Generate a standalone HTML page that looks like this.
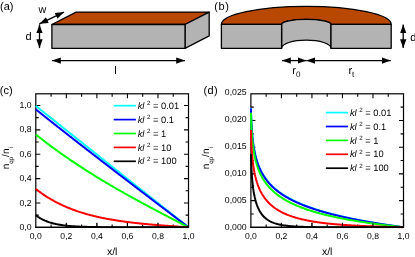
<!DOCTYPE html>
<html><head><meta charset="utf-8"><title>figure</title>
<style>html,body{margin:0;padding:0;background:#fff;}body{width:415px;height:257px;overflow:hidden;font-family:"Liberation Sans",sans-serif;}</style>
</head><body>
<svg width="415" height="257" viewBox="0 0 415 257" style="display:block;will-change:transform;text-rendering:geometricPrecision">
<rect width="415" height="257" fill="#fff"/>
<defs>
<marker id="ah" viewBox="0 0 10 10" refX="10" refY="5" markerWidth="8.8" markerHeight="8.8" markerUnits="userSpaceOnUse" orient="auto-start-reverse"><path d="M0,1.4 L10,5 L0,8.6 z" fill="#000"/></marker>
</defs>
<g stroke="#000" stroke-width="1.3" stroke-linejoin="round">
<polygon points="51.9,24.5 76.1,12.1 209.2,12.1 185.0,24.5" fill="#b84700"/>
<polygon points="185.0,24.5 209.2,12.1 209.2,35.9 185.0,48.3" fill="#b3b3b3"/>
<rect x="51.9" y="24.5" width="133.1" height="23.799999999999997" fill="#b3b3b3"/>
</g>
<line x1="39.4" y1="23.8" x2="64.0" y2="12.1" stroke="#000" stroke-width="1.3" marker-end="url(#ah)" marker-start="url(#ah)"/>
<line x1="39.5" y1="24.4" x2="39.5" y2="48.1" stroke="#000" stroke-width="1.3" marker-end="url(#ah)" marker-start="url(#ah)"/>
<line x1="52" y1="60.6" x2="185" y2="60.6" stroke="#000" stroke-width="1.3" marker-end="url(#ah)" marker-start="url(#ah)"/>
<text x="0" y="9.5" font-family="Liberation Sans, sans-serif" font-size="11" text-anchor="start" fill="#000" >(a)</text>
<text x="38.5" y="13.0" font-family="Liberation Sans, sans-serif" font-size="10.8" text-anchor="start" fill="#000" >w</text>
<text x="25.6" y="40.2" font-family="Liberation Sans, sans-serif" font-size="11" text-anchor="start" fill="#000" >d</text>
<text x="114.3" y="74.3" font-family="Liberation Sans, sans-serif" font-size="11" text-anchor="start" fill="#000" >l</text>
<g stroke="#000" stroke-width="1.3" stroke-linejoin="round">
<path d="M221.4,24.3 A84.89999999999999,18 0 0 1 391.2,24.3 L331.0,24.3 A24.69999999999999,5 0 0 0 281.6,24.3 Z" fill="#b84700"/>
<path d="M281.6,24.3 A24.69999999999999,5 0 0 1 331.0,24.3 L331.0,48.3 A24.69999999999999,8.2 0 0 0 281.6,48.3 Z" fill="#b3b3b3"/>
<rect x="221.4" y="24.3" width="60.20000000000002" height="23.999999999999996" fill="#b3b3b3"/>
<rect x="331.0" y="24.3" width="60.19999999999999" height="23.999999999999996" fill="#b3b3b3"/>
</g>
<line x1="403.2" y1="24.5" x2="403.2" y2="48.0" stroke="#000" stroke-width="1.3" marker-end="url(#ah)" marker-start="url(#ah)"/>
<line x1="282.0" y1="60.6" x2="306.3" y2="60.6" stroke="#000" stroke-width="1.3" marker-end="url(#ah)" marker-start="url(#ah)"/>
<line x1="306.3" y1="60.6" x2="390.8" y2="60.6" stroke="#000" stroke-width="1.3" marker-end="url(#ah)" marker-start="url(#ah)"/>
<text x="214.2" y="9.5" font-family="Liberation Sans, sans-serif" font-size="11" text-anchor="start" fill="#000" letter-spacing="0.6">(b)</text>
<text x="410.3" y="40.6" font-family="Liberation Sans, sans-serif" font-size="11" text-anchor="start" fill="#000" >d</text>
<text x="292.3" y="73.8" font-family="Liberation Sans, sans-serif" font-size="11" text-anchor="start" fill="#000" >r<tspan font-size="8" dy="3.3">0</tspan></text>
<text x="348.4" y="73.8" font-family="Liberation Sans, sans-serif" font-size="11" text-anchor="start" fill="#000" >r<tspan font-size="8" dy="3.3">t</tspan></text>
<clipPath id="cpc"><rect x="34.8" y="93.8" width="154.7" height="134.5"/></clipPath>
<rect x="35.8" y="93.8" width="152.7" height="133.5" fill="none" stroke="#000" stroke-width="1.2"/>
<text x="35.80" y="238.8" font-family="Liberation Sans, sans-serif" font-size="8.6" text-anchor="middle" fill="#000" >0,0</text>
<text x="66.34" y="238.8" font-family="Liberation Sans, sans-serif" font-size="8.6" text-anchor="middle" fill="#000" >0,2</text>
<text x="96.88" y="238.8" font-family="Liberation Sans, sans-serif" font-size="8.6" text-anchor="middle" fill="#000" >0,4</text>
<text x="127.42" y="238.8" font-family="Liberation Sans, sans-serif" font-size="8.6" text-anchor="middle" fill="#000" >0,6</text>
<text x="157.96" y="238.8" font-family="Liberation Sans, sans-serif" font-size="8.6" text-anchor="middle" fill="#000" >0,8</text>
<text x="188.50" y="238.8" font-family="Liberation Sans, sans-serif" font-size="8.6" text-anchor="middle" fill="#000" >1,0</text>
<text x="31.499999999999996" y="230.10" font-family="Liberation Sans, sans-serif" font-size="8.7" text-anchor="end" fill="#000" >0,0</text>
<text x="31.499999999999996" y="205.68" font-family="Liberation Sans, sans-serif" font-size="8.7" text-anchor="end" fill="#000" >0,2</text>
<text x="31.499999999999996" y="181.27" font-family="Liberation Sans, sans-serif" font-size="8.7" text-anchor="end" fill="#000" >0,4</text>
<text x="31.499999999999996" y="156.85" font-family="Liberation Sans, sans-serif" font-size="8.7" text-anchor="end" fill="#000" >0,6</text>
<text x="31.499999999999996" y="132.44" font-family="Liberation Sans, sans-serif" font-size="8.7" text-anchor="end" fill="#000" >0,8</text>
<text x="31.499999999999996" y="108.02" font-family="Liberation Sans, sans-serif" font-size="8.7" text-anchor="end" fill="#000" >1,0</text>
<path d="M51.07,227.3 v-2.9 M51.07,93.8 v2.9 M66.34,227.3 v-4.5 M66.34,93.8 v4.5 M81.61,227.3 v-2.9 M81.61,93.8 v2.9 M96.88,227.3 v-4.5 M96.88,93.8 v4.5 M112.15,227.3 v-2.9 M112.15,93.8 v2.9 M127.42,227.3 v-4.5 M127.42,93.8 v4.5 M142.69,227.3 v-2.9 M142.69,93.8 v2.9 M157.96,227.3 v-4.5 M157.96,93.8 v4.5 M173.23,227.3 v-2.9 M173.23,93.8 v2.9 M35.8,215.12 h2.9 M188.5,215.12 h-2.9 M35.8,202.94 h4.5 M188.5,202.94 h-4.5 M35.8,190.76 h2.9 M188.5,190.76 h-2.9 M35.8,178.58 h4.5 M188.5,178.58 h-4.5 M35.8,166.40 h2.9 M188.5,166.40 h-2.9 M35.8,154.22 h4.5 M188.5,154.22 h-4.5 M35.8,142.04 h2.9 M188.5,142.04 h-2.9 M35.8,129.85 h4.5 M188.5,129.85 h-4.5 M35.8,117.67 h2.9 M188.5,117.67 h-2.9 M35.8,105.49 h4.5 M188.5,105.49 h-4.5" stroke="#000" stroke-width="1.1" fill="none"/>
<g clip-path="url(#cpc)" fill="none" stroke-width="2" stroke-linejoin="round">
<polyline points="35.80,105.90 36.56,106.51 37.33,107.12 38.09,107.72 38.85,108.33 39.62,108.94 40.38,109.55 41.14,110.16 41.91,110.77 42.67,111.38 43.43,111.99 44.20,112.60 44.96,113.20 45.73,113.81 46.49,114.42 47.25,115.03 48.02,115.64 48.78,116.25 49.54,116.86 50.31,117.46 51.07,118.07 51.83,118.68 52.60,119.29 53.36,119.90 54.12,120.51 54.89,121.11 55.65,121.72 56.41,122.33 57.18,122.94 57.94,123.55 58.70,124.16 59.47,124.76 60.23,125.37 61.00,125.98 61.76,126.59 62.52,127.20 63.29,127.80 64.05,128.41 64.81,129.02 65.58,129.63 66.34,130.24 67.10,130.84 67.87,131.45 68.63,132.06 69.39,132.67 70.16,133.28 70.92,133.88 71.68,134.49 72.45,135.10 73.21,135.71 73.97,136.31 74.74,136.92 75.50,137.53 76.27,138.14 77.03,138.75 77.79,139.35 78.56,139.96 79.32,140.57 80.08,141.18 80.85,141.78 81.61,142.39 82.37,143.00 83.14,143.61 83.90,144.21 84.66,144.82 85.43,145.43 86.19,146.04 86.95,146.64 87.72,147.25 88.48,147.86 89.25,148.46 90.01,149.07 90.77,149.68 91.54,150.29 92.30,150.89 93.06,151.50 93.83,152.11 94.59,152.71 95.35,153.32 96.12,153.93 96.88,154.54 97.64,155.14 98.41,155.75 99.17,156.36 99.93,156.96 100.70,157.57 101.46,158.18 102.22,158.79 102.99,159.39 103.75,160.00 104.52,160.61 105.28,161.21 106.04,161.82 106.81,162.43 107.57,163.03 108.33,163.64 109.10,164.25 109.86,164.85 110.62,165.46 111.39,166.07 112.15,166.67 112.91,167.28 113.68,167.89 114.44,168.49 115.20,169.10 115.97,169.71 116.73,170.31 117.49,170.92 118.26,171.53 119.02,172.13 119.78,172.74 120.55,173.35 121.31,173.95 122.08,174.56 122.84,175.17 123.60,175.77 124.37,176.38 125.13,176.99 125.89,177.59 126.66,178.20 127.42,178.81 128.18,179.41 128.95,180.02 129.71,180.63 130.47,181.23 131.24,181.84 132.00,182.45 132.76,183.05 133.53,183.66 134.29,184.26 135.06,184.87 135.82,185.48 136.58,186.08 137.35,186.69 138.11,187.30 138.87,187.90 139.64,188.51 140.40,189.12 141.16,189.72 141.93,190.33 142.69,190.93 143.45,191.54 144.22,192.15 144.98,192.75 145.74,193.36 146.51,193.97 147.27,194.57 148.03,195.18 148.80,195.78 149.56,196.39 150.32,197.00 151.09,197.60 151.85,198.21 152.62,198.82 153.38,199.42 154.14,200.03 154.91,200.63 155.67,201.24 156.43,201.85 157.20,202.45 157.96,203.06 158.72,203.66 159.49,204.27 160.25,204.88 161.01,205.48 161.78,206.09 162.54,206.69 163.30,207.30 164.07,207.91 164.83,208.51 165.59,209.12 166.36,209.73 167.12,210.33 167.89,210.94 168.65,211.54 169.41,212.15 170.18,212.76 170.94,213.36 171.70,213.97 172.47,214.57 173.23,215.18 173.99,215.79 174.76,216.39 175.52,217.00 176.28,217.60 177.05,218.21 177.81,218.82 178.57,219.42 179.34,220.03 180.10,220.63 180.87,221.24 181.63,221.85 182.39,222.45 183.16,223.06 183.92,223.66 184.68,224.27 185.45,224.88 186.21,225.48 186.97,226.09 187.74,226.69 188.50,227.30" stroke="#00ffff"/>
<polyline points="35.80,109.40 36.56,110.01 37.33,110.62 38.09,111.22 38.85,111.83 39.62,112.44 40.38,113.05 41.14,113.65 41.91,114.26 42.67,114.87 43.43,115.47 44.20,116.08 44.96,116.69 45.73,117.29 46.49,117.90 47.25,118.50 48.02,119.11 48.78,119.71 49.54,120.31 50.31,120.92 51.07,121.52 51.83,122.12 52.60,122.73 53.36,123.33 54.12,123.93 54.89,124.54 55.65,125.14 56.41,125.74 57.18,126.34 57.94,126.94 58.70,127.54 59.47,128.14 60.23,128.74 61.00,129.34 61.76,129.94 62.52,130.54 63.29,131.14 64.05,131.74 64.81,132.34 65.58,132.94 66.34,133.54 67.10,134.14 67.87,134.74 68.63,135.33 69.39,135.93 70.16,136.53 70.92,137.13 71.68,137.72 72.45,138.32 73.21,138.92 73.97,139.51 74.74,140.11 75.50,140.70 76.27,141.30 77.03,141.90 77.79,142.49 78.56,143.09 79.32,143.68 80.08,144.27 80.85,144.87 81.61,145.46 82.37,146.06 83.14,146.65 83.90,147.24 84.66,147.84 85.43,148.43 86.19,149.02 86.95,149.62 87.72,150.21 88.48,150.80 89.25,151.39 90.01,151.99 90.77,152.58 91.54,153.17 92.30,153.76 93.06,154.35 93.83,154.94 94.59,155.53 95.35,156.12 96.12,156.72 96.88,157.31 97.64,157.90 98.41,158.49 99.17,159.08 99.93,159.67 100.70,160.25 101.46,160.84 102.22,161.43 102.99,162.02 103.75,162.61 104.52,163.20 105.28,163.79 106.04,164.38 106.81,164.96 107.57,165.55 108.33,166.14 109.10,166.73 109.86,167.32 110.62,167.90 111.39,168.49 112.15,169.08 112.91,169.67 113.68,170.25 114.44,170.84 115.20,171.43 115.97,172.01 116.73,172.60 117.49,173.18 118.26,173.77 119.02,174.36 119.78,174.94 120.55,175.53 121.31,176.11 122.08,176.70 122.84,177.28 123.60,177.87 124.37,178.45 125.13,179.04 125.89,179.62 126.66,180.21 127.42,180.79 128.18,181.38 128.95,181.96 129.71,182.54 130.47,183.13 131.24,183.71 132.00,184.30 132.76,184.88 133.53,185.46 134.29,186.05 135.06,186.63 135.82,187.21 136.58,187.80 137.35,188.38 138.11,188.96 138.87,189.55 139.64,190.13 140.40,190.71 141.16,191.29 141.93,191.88 142.69,192.46 143.45,193.04 144.22,193.62 144.98,194.21 145.74,194.79 146.51,195.37 147.27,195.95 148.03,196.53 148.80,197.12 149.56,197.70 150.32,198.28 151.09,198.86 151.85,199.44 152.62,200.02 153.38,200.61 154.14,201.19 154.91,201.77 155.67,202.35 156.43,202.93 157.20,203.51 157.96,204.09 158.72,204.67 159.49,205.25 160.25,205.84 161.01,206.42 161.78,207.00 162.54,207.58 163.30,208.16 164.07,208.74 164.83,209.32 165.59,209.90 166.36,210.48 167.12,211.06 167.89,211.64 168.65,212.22 169.41,212.80 170.18,213.38 170.94,213.96 171.70,214.54 172.47,215.12 173.23,215.70 173.99,216.28 174.76,216.86 175.52,217.44 176.28,218.02 177.05,218.60 177.81,219.18 178.57,219.76 179.34,220.34 180.10,220.92 180.87,221.50 181.63,222.08 182.39,222.66 183.16,223.24 183.92,223.82 184.68,224.40 185.45,224.98 186.21,225.56 186.97,226.14 187.74,226.72 188.50,227.30" stroke="#0000ff"/>
<polyline points="35.80,134.53 36.56,135.14 37.33,135.75 38.09,136.35 38.85,136.95 39.62,137.55 40.38,138.15 41.14,138.74 41.91,139.33 42.67,139.92 43.43,140.51 44.20,141.10 44.96,141.68 45.73,142.26 46.49,142.84 47.25,143.42 48.02,143.99 48.78,144.56 49.54,145.13 50.31,145.70 51.07,146.27 51.83,146.83 52.60,147.40 53.36,147.96 54.12,148.52 54.89,149.07 55.65,149.63 56.41,150.18 57.18,150.73 57.94,151.28 58.70,151.83 59.47,152.37 60.23,152.92 61.00,153.46 61.76,154.00 62.52,154.53 63.29,155.07 64.05,155.60 64.81,156.14 65.58,156.67 66.34,157.20 67.10,157.72 67.87,158.25 68.63,158.77 69.39,159.29 70.16,159.81 70.92,160.33 71.68,160.85 72.45,161.36 73.21,161.88 73.97,162.39 74.74,162.90 75.50,163.41 76.27,163.91 77.03,164.42 77.79,164.92 78.56,165.43 79.32,165.93 80.08,166.43 80.85,166.92 81.61,167.42 82.37,167.91 83.14,168.41 83.90,168.90 84.66,169.39 85.43,169.88 86.19,170.37 86.95,170.85 87.72,171.34 88.48,171.82 89.25,172.30 90.01,172.78 90.77,173.26 91.54,173.74 92.30,174.21 93.06,174.69 93.83,175.16 94.59,175.63 95.35,176.11 96.12,176.58 96.88,177.04 97.64,177.51 98.41,177.98 99.17,178.44 99.93,178.91 100.70,179.37 101.46,179.83 102.22,180.29 102.99,180.75 103.75,181.21 104.52,181.66 105.28,182.12 106.04,182.57 106.81,183.02 107.57,183.48 108.33,183.93 109.10,184.38 109.86,184.83 110.62,185.27 111.39,185.72 112.15,186.17 112.91,186.61 113.68,187.05 114.44,187.50 115.20,187.94 115.97,188.38 116.73,188.82 117.49,189.26 118.26,189.69 119.02,190.13 119.78,190.57 120.55,191.00 121.31,191.44 122.08,191.87 122.84,192.30 123.60,192.73 124.37,193.16 125.13,193.59 125.89,194.02 126.66,194.45 127.42,194.88 128.18,195.30 128.95,195.73 129.71,196.15 130.47,196.58 131.24,197.00 132.00,197.42 132.76,197.84 133.53,198.26 134.29,198.68 135.06,199.10 135.82,199.52 136.58,199.94 137.35,200.36 138.11,200.78 138.87,201.19 139.64,201.61 140.40,202.02 141.16,202.44 141.93,202.85 142.69,203.26 143.45,203.67 144.22,204.09 144.98,204.50 145.74,204.91 146.51,205.32 147.27,205.73 148.03,206.14 148.80,206.54 149.56,206.95 150.32,207.36 151.09,207.77 151.85,208.17 152.62,208.58 153.38,208.98 154.14,209.39 154.91,209.79 155.67,210.20 156.43,210.60 157.20,211.00 157.96,211.41 158.72,211.81 159.49,212.21 160.25,212.61 161.01,213.01 161.78,213.42 162.54,213.82 163.30,214.22 164.07,214.62 164.83,215.02 165.59,215.41 166.36,215.81 167.12,216.21 167.89,216.61 168.65,217.01 169.41,217.41 170.18,217.80 170.94,218.20 171.70,218.60 172.47,219.00 173.23,219.39 173.99,219.79 174.76,220.19 175.52,220.58 176.28,220.98 177.05,221.37 177.81,221.77 178.57,222.17 179.34,222.56 180.10,222.96 180.87,223.35 181.63,223.75 182.39,224.14 183.16,224.54 183.92,224.93 184.68,225.33 185.45,225.72 186.21,226.12 186.97,226.51 187.74,226.91 188.50,227.30" stroke="#00ff00"/>
<polyline points="35.80,188.92 36.56,189.52 37.33,190.12 38.09,190.70 38.85,191.28 39.62,191.85 40.38,192.41 41.14,192.96 41.91,193.50 42.67,194.03 43.43,194.55 44.20,195.07 44.96,195.58 45.73,196.08 46.49,196.57 47.25,197.06 48.02,197.53 48.78,198.00 49.54,198.47 50.31,198.92 51.07,199.37 51.83,199.81 52.60,200.24 53.36,200.67 54.12,201.09 54.89,201.51 55.65,201.91 56.41,202.32 57.18,202.71 57.94,203.10 58.70,203.48 59.47,203.86 60.23,204.23 61.00,204.60 61.76,204.96 62.52,205.31 63.29,205.66 64.05,206.00 64.81,206.34 65.58,206.67 66.34,207.00 67.10,207.32 67.87,207.64 68.63,207.95 69.39,208.26 70.16,208.57 70.92,208.86 71.68,209.16 72.45,209.45 73.21,209.73 73.97,210.01 74.74,210.29 75.50,210.56 76.27,210.83 77.03,211.09 77.79,211.35 78.56,211.61 79.32,211.86 80.08,212.10 80.85,212.35 81.61,212.59 82.37,212.82 83.14,213.06 83.90,213.29 84.66,213.51 85.43,213.73 86.19,213.95 86.95,214.17 87.72,214.38 88.48,214.59 89.25,214.80 90.01,215.00 90.77,215.20 91.54,215.40 92.30,215.59 93.06,215.78 93.83,215.97 94.59,216.15 95.35,216.33 96.12,216.51 96.88,216.69 97.64,216.87 98.41,217.04 99.17,217.21 99.93,217.37 100.70,217.54 101.46,217.70 102.22,217.86 102.99,218.01 103.75,218.17 104.52,218.32 105.28,218.47 106.04,218.62 106.81,218.76 107.57,218.91 108.33,219.05 109.10,219.19 109.86,219.32 110.62,219.46 111.39,219.59 112.15,219.72 112.91,219.85 113.68,219.98 114.44,220.11 115.20,220.23 115.97,220.35 116.73,220.47 117.49,220.59 118.26,220.71 119.02,220.82 119.78,220.94 120.55,221.05 121.31,221.16 122.08,221.27 122.84,221.38 123.60,221.48 124.37,221.59 125.13,221.69 125.89,221.79 126.66,221.89 127.42,221.99 128.18,222.09 128.95,222.19 129.71,222.28 130.47,222.38 131.24,222.47 132.00,222.56 132.76,222.65 133.53,222.74 134.29,222.83 135.06,222.92 135.82,223.00 136.58,223.09 137.35,223.17 138.11,223.25 138.87,223.33 139.64,223.41 140.40,223.49 141.16,223.57 141.93,223.65 142.69,223.73 143.45,223.80 144.22,223.88 144.98,223.95 145.74,224.03 146.51,224.10 147.27,224.17 148.03,224.24 148.80,224.31 149.56,224.38 150.32,224.45 151.09,224.52 151.85,224.59 152.62,224.65 153.38,224.72 154.14,224.78 154.91,224.85 155.67,224.91 156.43,224.98 157.20,225.04 157.96,225.10 158.72,225.16 159.49,225.22 160.25,225.29 161.01,225.35 161.78,225.41 162.54,225.46 163.30,225.52 164.07,225.58 164.83,225.64 165.59,225.70 166.36,225.75 167.12,225.81 167.89,225.87 168.65,225.92 169.41,225.98 170.18,226.03 170.94,226.09 171.70,226.14 172.47,226.20 173.23,226.25 173.99,226.31 174.76,226.36 175.52,226.41 176.28,226.47 177.05,226.52 177.81,226.57 178.57,226.63 179.34,226.68 180.10,226.73 180.87,226.78 181.63,226.84 182.39,226.89 183.16,226.94 183.92,226.99 184.68,227.04 185.45,227.09 186.21,227.15 186.97,227.20 187.74,227.25 188.50,227.30" stroke="#ff0000"/>
<polyline points="35.80,215.12 36.56,215.71 37.33,216.28 38.09,216.82 38.85,217.33 39.62,217.81 40.38,218.28 41.14,218.72 41.91,219.14 42.67,219.53 43.43,219.91 44.20,220.27 44.96,220.62 45.73,220.94 46.49,221.25 47.25,221.55 48.02,221.83 48.78,222.09 49.54,222.35 50.31,222.59 51.07,222.82 51.83,223.04 52.60,223.25 53.36,223.44 54.12,223.63 54.89,223.81 55.65,223.98 56.41,224.14 57.18,224.30 57.94,224.44 58.70,224.58 59.47,224.71 60.23,224.84 61.00,224.96 61.76,225.07 62.52,225.18 63.29,225.29 64.05,225.38 64.81,225.48 65.58,225.57 66.34,225.65 67.10,225.73 67.87,225.81 68.63,225.88 69.39,225.95 70.16,226.02 70.92,226.08 71.68,226.14 72.45,226.19 73.21,226.25 73.97,226.30 74.74,226.35 75.50,226.40 76.27,226.44 77.03,226.48 77.79,226.52 78.56,226.56 79.32,226.60 80.08,226.63 80.85,226.66 81.61,226.69 82.37,226.72 83.14,226.75 83.90,226.78 84.66,226.80 85.43,226.83 86.19,226.85 86.95,226.87 87.72,226.89 88.48,226.91 89.25,226.93 90.01,226.95 90.77,226.97 91.54,226.98 92.30,227.00 93.06,227.01 93.83,227.03 94.59,227.04 95.35,227.05 96.12,227.07 96.88,227.08 97.64,227.09 98.41,227.10 99.17,227.11 99.93,227.12 100.70,227.13 101.46,227.13 102.22,227.14 102.99,227.15 103.75,227.16 104.52,227.16 105.28,227.17 106.04,227.18 106.81,227.18 107.57,227.19 108.33,227.19 109.10,227.20 109.86,227.20 110.62,227.21 111.39,227.21 112.15,227.22 112.91,227.22 113.68,227.23 114.44,227.23 115.20,227.23 115.97,227.24 116.73,227.24 117.49,227.24 118.26,227.24 119.02,227.25 119.78,227.25 120.55,227.25 121.31,227.25 122.08,227.26 122.84,227.26 123.60,227.26 124.37,227.26 125.13,227.26 125.89,227.27 126.66,227.27 127.42,227.27 128.18,227.27 128.95,227.27 129.71,227.27 130.47,227.28 131.24,227.28 132.00,227.28 132.76,227.28 133.53,227.28 134.29,227.28 135.06,227.28 135.82,227.28 136.58,227.28 137.35,227.28 138.11,227.29 138.87,227.29 139.64,227.29 140.40,227.29 141.16,227.29 141.93,227.29 142.69,227.29 143.45,227.29 144.22,227.29 144.98,227.29 145.74,227.29 146.51,227.29 147.27,227.29 148.03,227.29 148.80,227.29 149.56,227.29 150.32,227.29 151.09,227.29 151.85,227.29 152.62,227.29 153.38,227.29 154.14,227.29 154.91,227.30 155.67,227.30 156.43,227.30 157.20,227.30 157.96,227.30 158.72,227.30 159.49,227.30 160.25,227.30 161.01,227.30 161.78,227.30 162.54,227.30 163.30,227.30 164.07,227.30 164.83,227.30 165.59,227.30 166.36,227.30 167.12,227.30 167.89,227.30 168.65,227.30 169.41,227.30 170.18,227.30 170.94,227.30 171.70,227.30 172.47,227.30 173.23,227.30 173.99,227.30 174.76,227.30 175.52,227.30 176.28,227.30 177.05,227.30 177.81,227.30 178.57,227.30 179.34,227.30 180.10,227.30 180.87,227.30 181.63,227.30 182.39,227.30 183.16,227.30 183.92,227.30 184.68,227.30 185.45,227.30 186.21,227.30 186.97,227.30 187.74,227.30 188.50,227.30" stroke="#000000"/>
</g>
<path d="M66.34,227.3 v-4.2 M96.88,227.3 v-4.2 M127.42,227.3 v-4.2 M157.96,227.3 v-4.2" stroke="#000" stroke-width="0.9" stroke-opacity="0.8" fill="none"/>
<path d="M35.199999999999996,227.3 H189.1 M188.5,227.3 V219.3" stroke="#000" stroke-width="1.2" fill="none"/>
<line x1="113.7" y1="105.70" x2="135.9" y2="105.70" stroke="#00ffff" stroke-width="1.7"/>
<text x="137.7" y="108.80" font-family="Liberation Sans, sans-serif" font-size="9.3" text-anchor="start" fill="#000" ><tspan font-style="italic">kl</tspan><tspan font-size="6.2" dy="-3.8" dx="2.6">2</tspan><tspan dy="3.8"> = 0.01</tspan></text>
<line x1="113.7" y1="119.60" x2="135.9" y2="119.60" stroke="#0000ff" stroke-width="1.7"/>
<text x="137.7" y="122.70" font-family="Liberation Sans, sans-serif" font-size="9.3" text-anchor="start" fill="#000" ><tspan font-style="italic">kl</tspan><tspan font-size="6.2" dy="-3.8" dx="2.6">2</tspan><tspan dy="3.8"> = 0.1</tspan></text>
<line x1="113.7" y1="133.50" x2="135.9" y2="133.50" stroke="#00ff00" stroke-width="1.7"/>
<text x="137.7" y="136.60" font-family="Liberation Sans, sans-serif" font-size="9.3" text-anchor="start" fill="#000" ><tspan font-style="italic">kl</tspan><tspan font-size="6.2" dy="-3.8" dx="2.6">2</tspan><tspan dy="3.8"> = 1</tspan></text>
<line x1="113.7" y1="147.40" x2="135.9" y2="147.40" stroke="#ff0000" stroke-width="1.7"/>
<text x="137.7" y="150.50" font-family="Liberation Sans, sans-serif" font-size="9.3" text-anchor="start" fill="#000" ><tspan font-style="italic">kl</tspan><tspan font-size="6.2" dy="-3.8" dx="2.6">2</tspan><tspan dy="3.8"> = 10</tspan></text>
<line x1="113.7" y1="161.30" x2="135.9" y2="161.30" stroke="#000000" stroke-width="1.7"/>
<text x="137.7" y="164.40" font-family="Liberation Sans, sans-serif" font-size="9.3" text-anchor="start" fill="#000" ><tspan font-style="italic">kl</tspan><tspan font-size="6.2" dy="-3.8" dx="2.6">2</tspan><tspan dy="3.8"> = 100</tspan></text>
<text x="112.15" y="255.2" font-family="Liberation Sans, sans-serif" font-size="10.5" text-anchor="middle" fill="#000" >x/l</text>
<text transform="translate(8.8,169.35) rotate(-90)" font-family="Liberation Sans, sans-serif" font-size="10" fill="#000">n<tspan font-size="6.2" dy="4.1">qp</tspan><tspan dy="-4.1">/n</tspan><tspan font-size="6.2" dy="4.1">i</tspan></text>
<text x="-0.2" y="93.8" font-family="Liberation Sans, sans-serif" font-size="11" text-anchor="start" fill="#000" >(c)</text>
<clipPath id="cpd"><rect x="249.9" y="93.8" width="154.6" height="134.5"/></clipPath>
<rect x="250.9" y="93.8" width="152.6" height="133.5" fill="none" stroke="#000" stroke-width="1.2"/>
<text x="250.90" y="238.8" font-family="Liberation Sans, sans-serif" font-size="8.6" text-anchor="middle" fill="#000" >0,0</text>
<text x="281.42" y="238.8" font-family="Liberation Sans, sans-serif" font-size="8.6" text-anchor="middle" fill="#000" >0,2</text>
<text x="311.94" y="238.8" font-family="Liberation Sans, sans-serif" font-size="8.6" text-anchor="middle" fill="#000" >0,4</text>
<text x="342.46" y="238.8" font-family="Liberation Sans, sans-serif" font-size="8.6" text-anchor="middle" fill="#000" >0,6</text>
<text x="372.98" y="238.8" font-family="Liberation Sans, sans-serif" font-size="8.6" text-anchor="middle" fill="#000" >0,8</text>
<text x="403.50" y="238.8" font-family="Liberation Sans, sans-serif" font-size="8.6" text-anchor="middle" fill="#000" >1,0</text>
<text x="246.6" y="230.10" font-family="Liberation Sans, sans-serif" font-size="8.7" text-anchor="end" fill="#000" >0,000</text>
<text x="246.6" y="203.14" font-family="Liberation Sans, sans-serif" font-size="8.7" text-anchor="end" fill="#000" >0,005</text>
<text x="246.6" y="176.18" font-family="Liberation Sans, sans-serif" font-size="8.7" text-anchor="end" fill="#000" >0,010</text>
<text x="246.6" y="149.22" font-family="Liberation Sans, sans-serif" font-size="8.7" text-anchor="end" fill="#000" >0,015</text>
<text x="246.6" y="122.26" font-family="Liberation Sans, sans-serif" font-size="8.7" text-anchor="end" fill="#000" >0,020</text>
<text x="246.6" y="95.30" font-family="Liberation Sans, sans-serif" font-size="8.7" text-anchor="end" fill="#000" >0,025</text>
<path d="M266.16,227.3 v-2.9 M266.16,93.8 v2.9 M281.42,227.3 v-4.5 M281.42,93.8 v4.5 M296.68,227.3 v-2.9 M296.68,93.8 v2.9 M311.94,227.3 v-4.5 M311.94,93.8 v4.5 M327.20,227.3 v-2.9 M327.20,93.8 v2.9 M342.46,227.3 v-4.5 M342.46,93.8 v4.5 M357.72,227.3 v-2.9 M357.72,93.8 v2.9 M372.98,227.3 v-4.5 M372.98,93.8 v4.5 M388.24,227.3 v-2.9 M388.24,93.8 v2.9 M250.9,213.95 h2.9 M403.5,213.95 h-2.9 M250.9,200.60 h4.5 M403.5,200.60 h-4.5 M250.9,187.25 h2.9 M403.5,187.25 h-2.9 M250.9,173.90 h4.5 M403.5,173.90 h-4.5 M250.9,160.55 h2.9 M403.5,160.55 h-2.9 M250.9,147.20 h4.5 M403.5,147.20 h-4.5 M250.9,133.85 h2.9 M403.5,133.85 h-2.9 M250.9,120.50 h4.5 M403.5,120.50 h-4.5 M250.9,107.15 h2.9 M403.5,107.15 h-2.9" stroke="#000" stroke-width="1.1" fill="none"/>
<g clip-path="url(#cpd)" fill="none" stroke-width="2" stroke-linejoin="round">
<polyline points="250.90,108.07 250.92,108.84 250.94,109.58 250.96,110.31 250.98,111.00 251.00,111.68 251.02,112.33 251.04,112.97 251.06,113.58 251.08,114.18 251.10,114.76 251.13,115.33 251.15,115.88 251.17,116.42 251.19,116.94 251.21,117.46 251.23,117.96 251.25,118.44 251.27,118.92 251.29,119.39 251.31,119.84 251.33,120.29 251.35,120.73 251.37,121.16 251.39,121.58 251.41,121.99 251.43,122.40 251.45,122.79 251.47,123.18 251.49,123.56 251.51,123.94 251.53,124.31 251.56,124.67 251.58,125.03 251.60,125.38 251.62,125.73 251.64,126.07 251.66,126.40 251.68,126.73 251.70,127.05 251.72,127.37 251.74,127.69 251.76,128.00 251.78,128.30 251.80,128.60 251.82,128.90 251.84,129.19 251.86,129.48 251.88,129.77 251.90,130.05 251.92,130.32 251.94,130.60 251.97,130.87 251.99,131.14 252.01,131.40 252.03,131.66 252.05,131.92 252.07,132.17 252.09,132.42 252.11,132.67 252.13,132.92 252.15,133.16 252.17,133.40 252.19,133.64 252.21,133.87 252.23,134.10 252.25,134.33 252.27,134.56 252.29,134.78 252.31,135.00 252.33,135.22 252.35,135.44 252.37,135.66 252.40,135.87 252.42,136.08 252.44,136.29 252.46,136.50 252.48,136.70 252.50,136.91 252.52,137.11 252.54,137.31 252.56,137.50 252.58,137.70 252.60,137.89 252.62,138.08 252.64,138.28 252.66,138.46 252.68,138.65 252.70,138.84 252.72,139.02 252.74,139.20 252.76,139.38 252.78,139.56 252.80,139.74 252.83,139.91 252.85,140.09 252.87,140.26 252.89,140.43 252.91,140.60 252.93,140.77 252.95,140.94 252.97,141.11 252.99,141.27 253.01,141.44 253.03,141.60 253.05,141.76 253.07,141.92 253.09,142.08 253.11,142.24 253.13,142.39 253.15,142.55 253.17,142.70 253.19,142.86 253.21,143.01 253.24,143.16 253.26,143.31 253.28,143.46 253.30,143.61 253.32,143.75 253.34,143.90 253.36,144.04 253.38,144.19 253.40,144.33 253.42,144.47 253.44,144.61 253.46,144.75 253.48,144.89 253.50,145.03 253.52,145.17 253.54,145.30 253.56,145.44 253.58,145.57 253.60,145.71 253.62,145.84 253.64,145.97 253.67,146.10 253.69,146.24 253.71,146.36 253.73,146.49 253.75,146.62 253.77,146.75 253.79,146.88 253.81,147.00 253.83,147.13 253.85,147.25 253.87,147.38 253.89,147.50 253.91,147.62 253.93,147.74 253.95,147.86 254.03,148.34 254.12,148.81 254.20,149.26 254.28,149.71 254.36,150.15 254.44,150.57 254.53,150.99 254.61,151.41 254.69,151.81 254.77,152.21 254.85,152.60 254.94,152.98 255.02,153.35 255.10,153.72 255.18,154.08 255.26,154.44 255.34,154.79 255.43,155.14 255.51,155.48 255.59,155.81 255.67,156.14 255.75,156.46 255.84,156.78 255.92,157.09 256.00,157.40 256.08,157.71 256.16,158.01 256.25,158.31 256.33,158.60 256.41,158.89 256.49,159.17 256.57,159.45 256.66,159.73 256.74,160.00 256.82,160.27 256.90,160.54 256.98,160.80 257.07,161.06 257.15,161.32 257.23,161.58 257.31,161.83 257.39,162.07 257.48,162.32 257.56,162.56 257.64,162.80 257.72,163.04 257.80,163.27 257.88,163.50 257.97,163.73 258.05,163.96 258.13,164.18 258.21,164.41 258.29,164.63 258.38,164.84 258.46,165.06 258.54,165.27 258.62,165.48 258.70,165.69 258.79,165.90 258.87,166.10 258.95,166.31 259.03,166.51 259.11,166.71 259.20,166.90 259.28,167.10 259.36,167.29 259.44,167.49 259.52,167.68 259.61,167.86 259.69,168.05 259.77,168.24 259.85,168.42 259.93,168.60 260.02,168.78 260.10,168.96 260.18,169.14 260.26,169.31 260.34,169.49 260.42,169.66 260.51,169.83 260.59,170.00 260.67,170.17 260.75,170.34 260.83,170.51 260.92,170.67 261.00,170.84 261.08,171.00 261.16,171.16 261.24,171.32 261.33,171.48 261.41,171.64 261.49,171.79 261.57,171.95 261.65,172.10 261.74,172.25 261.82,172.41 261.90,172.56 261.98,172.71 262.06,172.86 262.15,173.00 262.23,173.15 262.31,173.30 262.39,173.44 262.47,173.58 262.55,173.73 262.64,173.87 262.72,174.01 262.80,174.15 262.88,174.29 262.96,174.43 263.05,174.56 263.13,174.70 263.21,174.84 263.29,174.97 263.37,175.10 263.46,175.24 263.54,175.37 263.62,175.50 263.70,175.63 263.78,175.76 263.87,175.89 263.95,176.02 264.03,176.15 264.11,176.27 264.19,176.40 264.28,176.52 264.36,176.65 264.44,176.77 264.52,176.89 264.60,177.02 264.69,177.14 264.77,177.26 264.85,177.38 264.93,177.50 265.01,177.62 265.09,177.73 265.18,177.85 265.26,177.97 265.34,178.08 265.42,178.20 265.50,178.32 265.59,178.43 265.67,178.54 265.75,178.66 265.83,178.77 265.91,178.88 266.00,178.99 266.08,179.10 266.16,179.21 266.85,180.12 267.54,180.99 268.23,181.82 268.92,182.62 269.61,183.40 270.30,184.14 270.99,184.86 271.68,185.56 272.37,186.24 273.06,186.89 273.75,187.52 274.44,188.14 275.13,188.74 275.82,189.32 276.51,189.89 277.20,190.44 277.89,190.98 278.58,191.50 279.27,192.01 279.96,192.51 280.65,193.00 281.34,193.48 282.03,193.94 282.72,194.40 283.41,194.85 284.10,195.29 284.79,195.72 285.48,196.14 286.17,196.55 286.86,196.95 287.55,197.35 288.24,197.74 288.93,198.12 289.63,198.50 290.32,198.87 291.01,199.23 291.70,199.58 292.39,199.94 293.08,200.28 293.77,200.62 294.46,200.95 295.15,201.28 295.84,201.61 296.53,201.93 297.22,202.24 297.91,202.55 298.60,202.85 299.29,203.16 299.98,203.45 300.67,203.74 301.36,204.03 302.05,204.32 302.74,204.60 303.43,204.88 304.12,205.15 304.81,205.42 305.50,205.69 306.19,205.95 306.88,206.21 307.57,206.47 308.26,206.72 308.95,206.97 309.64,207.22 310.33,207.46 311.02,207.71 311.71,207.95 312.40,208.18 313.09,208.42 313.78,208.65 314.47,208.88 315.16,209.10 315.85,209.33 316.54,209.55 317.23,209.77 317.92,209.99 318.61,210.20 319.30,210.42 319.99,210.63 320.68,210.84 321.37,211.04 322.06,211.25 322.75,211.45 323.44,211.65 324.13,211.85 324.82,212.05 325.51,212.24 326.20,212.44 326.89,212.63 327.58,212.82 328.27,213.01 328.96,213.19 329.65,213.38 330.34,213.56 331.03,213.74 331.72,213.92 332.41,214.10 333.10,214.28 333.79,214.45 334.48,214.63 335.18,214.80 335.87,214.97 336.56,215.14 337.25,215.31 337.94,215.48 338.63,215.65 339.32,215.81 340.01,215.97 340.70,216.14 341.39,216.30 342.08,216.46 342.77,216.62 343.46,216.77 344.15,216.93 344.84,217.08 345.53,217.24 346.22,217.39 346.91,217.54 347.60,217.69 348.29,217.84 348.98,217.99 349.67,218.14 350.36,218.29 351.05,218.43 351.74,218.58 352.43,218.72 353.12,218.86 353.81,219.00 354.50,219.14 355.19,219.28 355.88,219.42 356.57,219.56 357.26,219.70 357.95,219.83 358.64,219.97 359.33,220.10 360.02,220.24 360.71,220.37 361.40,220.50 362.09,220.63 362.78,220.76 363.47,220.89 364.16,221.02 364.85,221.15 365.54,221.28 366.23,221.40 366.92,221.53 367.61,221.65 368.30,221.78 368.99,221.90 369.68,222.02 370.37,222.15 371.06,222.27 371.75,222.39 372.44,222.51 373.13,222.63 373.82,222.74 374.51,222.86 375.20,222.98 375.89,223.10 376.58,223.21 377.27,223.33 377.96,223.44 378.65,223.56 379.34,223.67 380.03,223.78 380.73,223.90 381.42,224.01 382.11,224.12 382.80,224.23 383.49,224.34 384.18,224.45 384.87,224.56 385.56,224.66 386.25,224.77 386.94,224.88 387.63,224.99 388.32,225.09 389.01,225.20 389.70,225.30 390.39,225.41 391.08,225.51 391.77,225.61 392.46,225.72 393.15,225.82 393.84,225.92 394.53,226.02 395.22,226.12 395.91,226.22 396.60,226.32 397.29,226.42 397.98,226.52 398.67,226.62 399.36,226.72 400.05,226.82 400.74,226.92 401.43,227.01 402.12,227.11 402.81,227.20 403.50,227.30" stroke="#00ffff"/>
<polyline points="250.90,108.53 250.92,109.31 250.94,110.05 250.96,110.77 250.98,111.47 251.00,112.15 251.02,112.80 251.04,113.43 251.06,114.05 251.08,114.65 251.10,115.23 251.13,115.80 251.15,116.35 251.17,116.89 251.19,117.41 251.21,117.92 251.23,118.42 251.25,118.91 251.27,119.39 251.29,119.86 251.31,120.31 251.33,120.76 251.35,121.20 251.37,121.63 251.39,122.05 251.41,122.46 251.43,122.86 251.45,123.26 251.47,123.65 251.49,124.03 251.51,124.41 251.53,124.78 251.56,125.14 251.58,125.50 251.60,125.85 251.62,126.19 251.64,126.53 251.66,126.87 251.68,127.20 251.70,127.52 251.72,127.84 251.74,128.15 251.76,128.46 251.78,128.77 251.80,129.07 251.82,129.37 251.84,129.66 251.86,129.95 251.88,130.23 251.90,130.52 251.92,130.79 251.94,131.07 251.97,131.34 251.99,131.60 252.01,131.87 252.03,132.13 252.05,132.39 252.07,132.64 252.09,132.89 252.11,133.14 252.13,133.38 252.15,133.63 252.17,133.87 252.19,134.10 252.21,134.34 252.23,134.57 252.25,134.80 252.27,135.03 252.29,135.25 252.31,135.47 252.33,135.69 252.35,135.91 252.37,136.13 252.40,136.34 252.42,136.55 252.44,136.76 252.46,136.97 252.48,137.17 252.50,137.37 252.52,137.58 252.54,137.77 252.56,137.97 252.58,138.17 252.60,138.36 252.62,138.55 252.64,138.74 252.66,138.93 252.68,139.12 252.70,139.30 252.72,139.49 252.74,139.67 252.76,139.85 252.78,140.03 252.80,140.21 252.83,140.38 252.85,140.56 252.87,140.73 252.89,140.90 252.91,141.07 252.93,141.24 252.95,141.41 252.97,141.58 252.99,141.74 253.01,141.90 253.03,142.07 253.05,142.23 253.07,142.39 253.09,142.55 253.11,142.71 253.13,142.86 253.15,143.02 253.17,143.17 253.19,143.32 253.21,143.48 253.24,143.63 253.26,143.78 253.28,143.93 253.30,144.07 253.32,144.22 253.34,144.37 253.36,144.51 253.38,144.66 253.40,144.80 253.42,144.94 253.44,145.08 253.46,145.22 253.48,145.36 253.50,145.50 253.52,145.64 253.54,145.77 253.56,145.91 253.58,146.04 253.60,146.18 253.62,146.31 253.64,146.44 253.67,146.57 253.69,146.70 253.71,146.83 253.73,146.96 253.75,147.09 253.77,147.22 253.79,147.34 253.81,147.47 253.83,147.59 253.85,147.72 253.87,147.84 253.89,147.97 253.91,148.09 253.93,148.21 253.95,148.33 254.03,148.81 254.12,149.27 254.20,149.73 254.28,150.18 254.36,150.61 254.44,151.04 254.53,151.46 254.61,151.87 254.69,152.28 254.77,152.67 254.85,153.06 254.94,153.44 255.02,153.82 255.10,154.19 255.18,154.55 255.26,154.91 255.34,155.26 255.43,155.60 255.51,155.94 255.59,156.28 255.67,156.60 255.75,156.93 255.84,157.25 255.92,157.56 256.00,157.87 256.08,158.18 256.16,158.48 256.25,158.77 256.33,159.06 256.41,159.35 256.49,159.64 256.57,159.92 256.66,160.20 256.74,160.47 256.82,160.74 256.90,161.01 256.98,161.27 257.07,161.53 257.15,161.79 257.23,162.04 257.31,162.29 257.39,162.54 257.48,162.78 257.56,163.03 257.64,163.27 257.72,163.50 257.80,163.74 257.88,163.97 257.97,164.20 258.05,164.42 258.13,164.65 258.21,164.87 258.29,165.09 258.38,165.31 258.46,165.52 258.54,165.74 258.62,165.95 258.70,166.16 258.79,166.36 258.87,166.57 258.95,166.77 259.03,166.97 259.11,167.17 259.20,167.37 259.28,167.56 259.36,167.76 259.44,167.95 259.52,168.14 259.61,168.33 259.69,168.51 259.77,168.70 259.85,168.88 259.93,169.06 260.02,169.24 260.10,169.42 260.18,169.60 260.26,169.78 260.34,169.95 260.42,170.12 260.51,170.29 260.59,170.46 260.67,170.63 260.75,170.80 260.83,170.97 260.92,171.13 261.00,171.30 261.08,171.46 261.16,171.62 261.24,171.78 261.33,171.94 261.41,172.10 261.49,172.25 261.57,172.41 261.65,172.56 261.74,172.71 261.82,172.87 261.90,173.02 261.98,173.17 262.06,173.31 262.15,173.46 262.23,173.61 262.31,173.75 262.39,173.90 262.47,174.04 262.55,174.19 262.64,174.33 262.72,174.47 262.80,174.61 262.88,174.75 262.96,174.88 263.05,175.02 263.13,175.16 263.21,175.29 263.29,175.43 263.37,175.56 263.46,175.69 263.54,175.83 263.62,175.96 263.70,176.09 263.78,176.22 263.87,176.35 263.95,176.47 264.03,176.60 264.11,176.73 264.19,176.85 264.28,176.98 264.36,177.10 264.44,177.23 264.52,177.35 264.60,177.47 264.69,177.59 264.77,177.71 264.85,177.83 264.93,177.95 265.01,178.07 265.09,178.19 265.18,178.31 265.26,178.42 265.34,178.54 265.42,178.65 265.50,178.77 265.59,178.88 265.67,179.00 265.75,179.11 265.83,179.22 265.91,179.33 266.00,179.44 266.08,179.55 266.16,179.66 266.85,180.57 267.54,181.44 268.23,182.27 268.92,183.07 269.61,183.84 270.30,184.59 270.99,185.31 271.68,186.00 272.37,186.68 273.06,187.33 273.75,187.96 274.44,188.58 275.13,189.17 275.82,189.75 276.51,190.32 277.20,190.87 277.89,191.40 278.58,191.93 279.27,192.44 279.96,192.93 280.65,193.42 281.34,193.90 282.03,194.36 282.72,194.82 283.41,195.26 284.10,195.70 284.79,196.12 285.48,196.54 286.17,196.95 286.86,197.36 287.55,197.75 288.24,198.14 288.93,198.52 289.63,198.89 290.32,199.26 291.01,199.62 291.70,199.97 292.39,200.32 293.08,200.67 293.77,201.00 294.46,201.33 295.15,201.66 295.84,201.98 296.53,202.30 297.22,202.61 297.91,202.92 298.60,203.22 299.29,203.52 299.98,203.82 300.67,204.11 301.36,204.39 302.05,204.67 302.74,204.95 303.43,205.23 304.12,205.50 304.81,205.77 305.50,206.03 306.19,206.29 306.88,206.55 307.57,206.81 308.26,207.06 308.95,207.31 309.64,207.55 310.33,207.79 311.02,208.03 311.71,208.27 312.40,208.50 313.09,208.74 313.78,208.97 314.47,209.19 315.16,209.42 315.85,209.64 316.54,209.86 317.23,210.08 317.92,210.29 318.61,210.50 319.30,210.71 319.99,210.92 320.68,211.13 321.37,211.33 322.06,211.53 322.75,211.73 323.44,211.93 324.13,212.13 324.82,212.32 325.51,212.52 326.20,212.71 326.89,212.90 327.58,213.08 328.27,213.27 328.96,213.45 329.65,213.64 330.34,213.82 331.03,214.00 331.72,214.17 332.41,214.35 333.10,214.53 333.79,214.70 334.48,214.87 335.18,215.04 335.87,215.21 336.56,215.38 337.25,215.54 337.94,215.71 338.63,215.87 339.32,216.03 340.01,216.20 340.70,216.36 341.39,216.51 342.08,216.67 342.77,216.83 343.46,216.98 344.15,217.14 344.84,217.29 345.53,217.44 346.22,217.59 346.91,217.74 347.60,217.89 348.29,218.03 348.98,218.18 349.67,218.33 350.36,218.47 351.05,218.61 351.74,218.75 352.43,218.90 353.12,219.04 353.81,219.17 354.50,219.31 355.19,219.45 355.88,219.59 356.57,219.72 357.26,219.86 357.95,219.99 358.64,220.12 359.33,220.25 360.02,220.39 360.71,220.52 361.40,220.64 362.09,220.77 362.78,220.90 363.47,221.03 364.16,221.15 364.85,221.28 365.54,221.40 366.23,221.53 366.92,221.65 367.61,221.77 368.30,221.90 368.99,222.02 369.68,222.14 370.37,222.26 371.06,222.37 371.75,222.49 372.44,222.61 373.13,222.73 373.82,222.84 374.51,222.96 375.20,223.07 375.89,223.19 376.58,223.30 377.27,223.41 377.96,223.53 378.65,223.64 379.34,223.75 380.03,223.86 380.73,223.97 381.42,224.08 382.11,224.19 382.80,224.30 383.49,224.40 384.18,224.51 384.87,224.62 385.56,224.72 386.25,224.83 386.94,224.93 387.63,225.04 388.32,225.14 389.01,225.24 389.70,225.35 390.39,225.45 391.08,225.55 391.77,225.65 392.46,225.75 393.15,225.85 393.84,225.95 394.53,226.05 395.22,226.15 395.91,226.25 396.60,226.35 397.29,226.44 397.98,226.54 398.67,226.64 399.36,226.73 400.05,226.83 400.74,226.92 401.43,227.02 402.12,227.11 402.81,227.21 403.50,227.30" stroke="#0000ff"/>
<polyline points="250.90,112.60 250.92,113.37 250.94,114.12 250.96,114.84 250.98,115.54 251.00,116.21 251.02,116.87 251.04,117.50 251.06,118.12 251.08,118.71 251.10,119.30 251.13,119.86 251.15,120.42 251.17,120.95 251.19,121.48 251.21,121.99 251.23,122.49 251.25,122.98 251.27,123.46 251.29,123.92 251.31,124.38 251.33,124.83 251.35,125.26 251.37,125.69 251.39,126.11 251.41,126.53 251.43,126.93 251.45,127.33 251.47,127.72 251.49,128.10 251.51,128.47 251.53,128.84 251.56,129.21 251.58,129.56 251.60,129.91 251.62,130.26 251.64,130.60 251.66,130.93 251.68,131.26 251.70,131.59 251.72,131.91 251.74,132.22 251.76,132.53 251.78,132.83 251.80,133.14 251.82,133.43 251.84,133.73 251.86,134.01 251.88,134.30 251.90,134.58 251.92,134.86 251.94,135.13 251.97,135.40 251.99,135.67 252.01,135.93 252.03,136.19 252.05,136.45 252.07,136.70 252.09,136.95 252.11,137.20 252.13,137.45 252.15,137.69 252.17,137.93 252.19,138.17 252.21,138.40 252.23,138.63 252.25,138.86 252.27,139.09 252.29,139.31 252.31,139.54 252.33,139.76 252.35,139.97 252.37,140.19 252.40,140.40 252.42,140.61 252.44,140.82 252.46,141.03 252.48,141.23 252.50,141.44 252.52,141.64 252.54,141.84 252.56,142.03 252.58,142.23 252.60,142.42 252.62,142.62 252.64,142.81 252.66,142.99 252.68,143.18 252.70,143.37 252.72,143.55 252.74,143.73 252.76,143.91 252.78,144.09 252.80,144.27 252.83,144.44 252.85,144.62 252.87,144.79 252.89,144.96 252.91,145.13 252.93,145.30 252.95,145.47 252.97,145.64 252.99,145.80 253.01,145.97 253.03,146.13 253.05,146.29 253.07,146.45 253.09,146.61 253.11,146.77 253.13,146.92 253.15,147.08 253.17,147.23 253.19,147.38 253.21,147.54 253.24,147.69 253.26,147.84 253.28,147.99 253.30,148.13 253.32,148.28 253.34,148.43 253.36,148.57 253.38,148.71 253.40,148.86 253.42,149.00 253.44,149.14 253.46,149.28 253.48,149.42 253.50,149.56 253.52,149.69 253.54,149.83 253.56,149.97 253.58,150.10 253.60,150.23 253.62,150.37 253.64,150.50 253.67,150.63 253.69,150.76 253.71,150.89 253.73,151.02 253.75,151.15 253.77,151.27 253.79,151.40 253.81,151.53 253.83,151.65 253.85,151.78 253.87,151.90 253.89,152.02 253.91,152.14 253.93,152.27 253.95,152.39 254.03,152.86 254.12,153.33 254.20,153.78 254.28,154.23 254.36,154.67 254.44,155.09 254.53,155.51 254.61,155.92 254.69,156.33 254.77,156.72 254.85,157.11 254.94,157.49 255.02,157.87 255.10,158.24 255.18,158.60 255.26,158.95 255.34,159.30 255.43,159.65 255.51,159.99 255.59,160.32 255.67,160.65 255.75,160.97 255.84,161.29 255.92,161.60 256.00,161.91 256.08,162.22 256.16,162.52 256.25,162.81 256.33,163.10 256.41,163.39 256.49,163.68 256.57,163.96 256.66,164.23 256.74,164.50 256.82,164.77 256.90,165.04 256.98,165.30 257.07,165.56 257.15,165.82 257.23,166.07 257.31,166.32 257.39,166.57 257.48,166.81 257.56,167.05 257.64,167.29 257.72,167.53 257.80,167.76 257.88,167.99 257.97,168.22 258.05,168.45 258.13,168.67 258.21,168.89 258.29,169.11 258.38,169.33 258.46,169.54 258.54,169.75 258.62,169.96 258.70,170.17 258.79,170.38 258.87,170.58 258.95,170.78 259.03,170.98 259.11,171.18 259.20,171.38 259.28,171.57 259.36,171.76 259.44,171.96 259.52,172.14 259.61,172.33 259.69,172.52 259.77,172.70 259.85,172.88 259.93,173.07 260.02,173.24 260.10,173.42 260.18,173.60 260.26,173.77 260.34,173.95 260.42,174.12 260.51,174.29 260.59,174.46 260.67,174.63 260.75,174.79 260.83,174.96 260.92,175.12 261.00,175.29 261.08,175.45 261.16,175.61 261.24,175.77 261.33,175.92 261.41,176.08 261.49,176.23 261.57,176.39 261.65,176.54 261.74,176.69 261.82,176.84 261.90,176.99 261.98,177.14 262.06,177.29 262.15,177.44 262.23,177.58 262.31,177.73 262.39,177.87 262.47,178.01 262.55,178.15 262.64,178.29 262.72,178.43 262.80,178.57 262.88,178.71 262.96,178.85 263.05,178.98 263.13,179.12 263.21,179.25 263.29,179.39 263.37,179.52 263.46,179.65 263.54,179.78 263.62,179.91 263.70,180.04 263.78,180.17 263.87,180.30 263.95,180.42 264.03,180.55 264.11,180.67 264.19,180.80 264.28,180.92 264.36,181.05 264.44,181.17 264.52,181.29 264.60,181.41 264.69,181.53 264.77,181.65 264.85,181.77 264.93,181.89 265.01,182.00 265.09,182.12 265.18,182.24 265.26,182.35 265.34,182.47 265.42,182.58 265.50,182.69 265.59,182.81 265.67,182.92 265.75,183.03 265.83,183.14 265.91,183.25 266.00,183.36 266.08,183.47 266.16,183.58 266.85,184.47 267.54,185.33 268.23,186.15 268.92,186.94 269.61,187.70 270.30,188.43 270.99,189.14 271.68,189.82 272.37,190.48 273.06,191.12 273.75,191.74 274.44,192.34 275.13,192.92 275.82,193.48 276.51,194.03 277.20,194.57 277.89,195.09 278.58,195.60 279.27,196.09 279.96,196.57 280.65,197.04 281.34,197.50 282.03,197.95 282.72,198.39 283.41,198.82 284.10,199.24 284.79,199.65 285.48,200.05 286.17,200.44 286.86,200.83 287.55,201.20 288.24,201.57 288.93,201.94 289.63,202.29 290.32,202.64 291.01,202.98 291.70,203.32 292.39,203.65 293.08,203.97 293.77,204.29 294.46,204.60 295.15,204.91 295.84,205.21 296.53,205.51 297.22,205.81 297.91,206.09 298.60,206.38 299.29,206.66 299.98,206.93 300.67,207.20 301.36,207.47 302.05,207.73 302.74,207.99 303.43,208.24 304.12,208.49 304.81,208.74 305.50,208.99 306.19,209.23 306.88,209.46 307.57,209.70 308.26,209.93 308.95,210.16 309.64,210.38 310.33,210.60 311.02,210.82 311.71,211.04 312.40,211.25 313.09,211.46 313.78,211.67 314.47,211.88 315.16,212.08 315.85,212.28 316.54,212.48 317.23,212.67 317.92,212.87 318.61,213.06 319.30,213.25 319.99,213.43 320.68,213.62 321.37,213.80 322.06,213.98 322.75,214.16 323.44,214.34 324.13,214.51 324.82,214.68 325.51,214.86 326.20,215.02 326.89,215.19 327.58,215.36 328.27,215.52 328.96,215.68 329.65,215.84 330.34,216.00 331.03,216.16 331.72,216.32 332.41,216.47 333.10,216.62 333.79,216.77 334.48,216.92 335.18,217.07 335.87,217.22 336.56,217.37 337.25,217.51 337.94,217.65 338.63,217.79 339.32,217.93 340.01,218.07 340.70,218.21 341.39,218.35 342.08,218.48 342.77,218.62 343.46,218.75 344.15,218.88 344.84,219.01 345.53,219.14 346.22,219.27 346.91,219.40 347.60,219.52 348.29,219.65 348.98,219.77 349.67,219.90 350.36,220.02 351.05,220.14 351.74,220.26 352.43,220.38 353.12,220.50 353.81,220.62 354.50,220.73 355.19,220.85 355.88,220.96 356.57,221.08 357.26,221.19 357.95,221.30 358.64,221.41 359.33,221.52 360.02,221.63 360.71,221.74 361.40,221.85 362.09,221.96 362.78,222.06 363.47,222.17 364.16,222.27 364.85,222.38 365.54,222.48 366.23,222.58 366.92,222.69 367.61,222.79 368.30,222.89 368.99,222.99 369.68,223.09 370.37,223.19 371.06,223.28 371.75,223.38 372.44,223.48 373.13,223.58 373.82,223.67 374.51,223.77 375.20,223.86 375.89,223.95 376.58,224.05 377.27,224.14 377.96,224.23 378.65,224.32 379.34,224.41 380.03,224.50 380.73,224.59 381.42,224.68 382.11,224.77 382.80,224.86 383.49,224.95 384.18,225.04 384.87,225.12 385.56,225.21 386.25,225.29 386.94,225.38 387.63,225.46 388.32,225.55 389.01,225.63 389.70,225.72 390.39,225.80 391.08,225.88 391.77,225.96 392.46,226.05 393.15,226.13 393.84,226.21 394.53,226.29 395.22,226.37 395.91,226.45 396.60,226.53 397.29,226.61 397.98,226.69 398.67,226.76 399.36,226.84 400.05,226.92 400.74,227.00 401.43,227.07 402.12,227.15 402.81,227.22 403.50,227.30" stroke="#00ff00"/>
<polyline points="250.90,130.04 250.92,130.81 250.94,131.56 250.96,132.28 250.98,132.97 251.00,133.65 251.02,134.30 251.04,134.94 251.06,135.55 251.08,136.15 251.10,136.73 251.13,137.30 251.15,137.85 251.17,138.39 251.19,138.91 251.21,139.42 251.23,139.92 251.25,140.41 251.27,140.89 251.29,141.36 251.31,141.81 251.33,142.26 251.35,142.70 251.37,143.13 251.39,143.55 251.41,143.96 251.43,144.36 251.45,144.76 251.47,145.15 251.49,145.53 251.51,145.91 251.53,146.27 251.56,146.64 251.58,146.99 251.60,147.34 251.62,147.69 251.64,148.03 251.66,148.36 251.68,148.69 251.70,149.01 251.72,149.33 251.74,149.65 251.76,149.96 251.78,150.26 251.80,150.56 251.82,150.86 251.84,151.15 251.86,151.44 251.88,151.72 251.90,152.00 251.92,152.28 251.94,152.55 251.97,152.82 251.99,153.09 252.01,153.35 252.03,153.61 252.05,153.87 252.07,154.12 252.09,154.37 252.11,154.62 252.13,154.87 252.15,155.11 252.17,155.35 252.19,155.58 252.21,155.82 252.23,156.05 252.25,156.28 252.27,156.50 252.29,156.73 252.31,156.95 252.33,157.17 252.35,157.39 252.37,157.60 252.40,157.81 252.42,158.02 252.44,158.23 252.46,158.44 252.48,158.64 252.50,158.85 252.52,159.05 252.54,159.24 252.56,159.44 252.58,159.64 252.60,159.83 252.62,160.02 252.64,160.21 252.66,160.40 252.68,160.58 252.70,160.77 252.72,160.95 252.74,161.13 252.76,161.31 252.78,161.49 252.80,161.67 252.83,161.84 252.85,162.02 252.87,162.19 252.89,162.36 252.91,162.53 252.93,162.70 252.95,162.86 252.97,163.03 252.99,163.19 253.01,163.36 253.03,163.52 253.05,163.68 253.07,163.84 253.09,164.00 253.11,164.15 253.13,164.31 253.15,164.46 253.17,164.62 253.19,164.77 253.21,164.92 253.24,165.07 253.26,165.22 253.28,165.37 253.30,165.52 253.32,165.66 253.34,165.81 253.36,165.95 253.38,166.09 253.40,166.24 253.42,166.38 253.44,166.52 253.46,166.66 253.48,166.79 253.50,166.93 253.52,167.07 253.54,167.20 253.56,167.34 253.58,167.47 253.60,167.60 253.62,167.74 253.64,167.87 253.67,168.00 253.69,168.13 253.71,168.26 253.73,168.38 253.75,168.51 253.77,168.64 253.79,168.76 253.81,168.89 253.83,169.01 253.85,169.14 253.87,169.26 253.89,169.38 253.91,169.50 253.93,169.62 253.95,169.74 254.03,170.21 254.12,170.68 254.20,171.13 254.28,171.57 254.36,172.00 254.44,172.43 254.53,172.84 254.61,173.25 254.69,173.65 254.77,174.04 254.85,174.42 254.94,174.80 255.02,175.17 255.10,175.54 255.18,175.89 255.26,176.24 255.34,176.59 255.43,176.93 255.51,177.26 255.59,177.59 255.67,177.92 255.75,178.23 255.84,178.55 255.92,178.86 256.00,179.16 256.08,179.46 256.16,179.75 256.25,180.04 256.33,180.33 256.41,180.61 256.49,180.89 256.57,181.17 256.66,181.44 256.74,181.71 256.82,181.97 256.90,182.23 256.98,182.49 257.07,182.74 257.15,182.99 257.23,183.24 257.31,183.48 257.39,183.73 257.48,183.96 257.56,184.20 257.64,184.43 257.72,184.66 257.80,184.89 257.88,185.12 257.97,185.34 258.05,185.56 258.13,185.78 258.21,185.99 258.29,186.20 258.38,186.41 258.46,186.62 258.54,186.83 258.62,187.03 258.70,187.23 258.79,187.43 258.87,187.63 258.95,187.83 259.03,188.02 259.11,188.21 259.20,188.40 259.28,188.59 259.36,188.77 259.44,188.96 259.52,189.14 259.61,189.32 259.69,189.50 259.77,189.68 259.85,189.85 259.93,190.03 260.02,190.20 260.10,190.37 260.18,190.54 260.26,190.71 260.34,190.87 260.42,191.04 260.51,191.20 260.59,191.37 260.67,191.53 260.75,191.69 260.83,191.84 260.92,192.00 261.00,192.16 261.08,192.31 261.16,192.46 261.24,192.61 261.33,192.76 261.41,192.91 261.49,193.06 261.57,193.21 261.65,193.35 261.74,193.50 261.82,193.64 261.90,193.78 261.98,193.92 262.06,194.06 262.15,194.20 262.23,194.34 262.31,194.48 262.39,194.61 262.47,194.75 262.55,194.88 262.64,195.01 262.72,195.15 262.80,195.28 262.88,195.41 262.96,195.54 263.05,195.66 263.13,195.79 263.21,195.92 263.29,196.04 263.37,196.17 263.46,196.29 263.54,196.41 263.62,196.54 263.70,196.66 263.78,196.78 263.87,196.90 263.95,197.01 264.03,197.13 264.11,197.25 264.19,197.37 264.28,197.48 264.36,197.60 264.44,197.71 264.52,197.82 264.60,197.94 264.69,198.05 264.77,198.16 264.85,198.27 264.93,198.38 265.01,198.49 265.09,198.59 265.18,198.70 265.26,198.81 265.34,198.92 265.42,199.02 265.50,199.13 265.59,199.23 265.67,199.33 265.75,199.44 265.83,199.54 265.91,199.64 266.00,199.74 266.08,199.84 266.16,199.94 266.85,200.76 267.54,201.54 268.23,202.28 268.92,202.99 269.61,203.67 270.30,204.32 270.99,204.95 271.68,205.55 272.37,206.12 273.06,206.68 273.75,207.21 274.44,207.72 275.13,208.22 275.82,208.70 276.51,209.16 277.20,209.60 277.89,210.03 278.58,210.45 279.27,210.85 279.96,211.24 280.65,211.62 281.34,211.99 282.03,212.34 282.72,212.69 283.41,213.02 284.10,213.35 284.79,213.66 285.48,213.97 286.17,214.27 286.86,214.56 287.55,214.84 288.24,215.11 288.93,215.38 289.63,215.64 290.32,215.89 291.01,216.14 291.70,216.38 292.39,216.61 293.08,216.84 293.77,217.06 294.46,217.27 295.15,217.48 295.84,217.69 296.53,217.89 297.22,218.08 297.91,218.28 298.60,218.46 299.29,218.64 299.98,218.82 300.67,218.99 301.36,219.16 302.05,219.33 302.74,219.49 303.43,219.65 304.12,219.80 304.81,219.95 305.50,220.10 306.19,220.25 306.88,220.39 307.57,220.52 308.26,220.66 308.95,220.79 309.64,220.92 310.33,221.05 311.02,221.17 311.71,221.29 312.40,221.41 313.09,221.52 313.78,221.64 314.47,221.75 315.16,221.86 315.85,221.96 316.54,222.07 317.23,222.17 317.92,222.27 318.61,222.37 319.30,222.46 319.99,222.56 320.68,222.65 321.37,222.74 322.06,222.83 322.75,222.92 323.44,223.00 324.13,223.08 324.82,223.17 325.51,223.25 326.20,223.33 326.89,223.40 327.58,223.48 328.27,223.55 328.96,223.63 329.65,223.70 330.34,223.77 331.03,223.84 331.72,223.90 332.41,223.97 333.10,224.03 333.79,224.10 334.48,224.16 335.18,224.22 335.87,224.28 336.56,224.34 337.25,224.40 337.94,224.46 338.63,224.51 339.32,224.57 340.01,224.62 340.70,224.68 341.39,224.73 342.08,224.78 342.77,224.83 343.46,224.88 344.15,224.93 344.84,224.98 345.53,225.02 346.22,225.07 346.91,225.12 347.60,225.16 348.29,225.20 348.98,225.25 349.67,225.29 350.36,225.33 351.05,225.37 351.74,225.41 352.43,225.45 353.12,225.49 353.81,225.53 354.50,225.57 355.19,225.61 355.88,225.64 356.57,225.68 357.26,225.71 357.95,225.75 358.64,225.78 359.33,225.82 360.02,225.85 360.71,225.88 361.40,225.92 362.09,225.95 362.78,225.98 363.47,226.01 364.16,226.04 364.85,226.07 365.54,226.10 366.23,226.13 366.92,226.16 367.61,226.19 368.30,226.22 368.99,226.24 369.68,226.27 370.37,226.30 371.06,226.32 371.75,226.35 372.44,226.38 373.13,226.40 373.82,226.43 374.51,226.45 375.20,226.48 375.89,226.50 376.58,226.53 377.27,226.55 377.96,226.57 378.65,226.60 379.34,226.62 380.03,226.64 380.73,226.66 381.42,226.69 382.11,226.71 382.80,226.73 383.49,226.75 384.18,226.77 384.87,226.79 385.56,226.81 386.25,226.84 386.94,226.86 387.63,226.88 388.32,226.90 389.01,226.92 389.70,226.94 390.39,226.96 391.08,226.97 391.77,226.99 392.46,227.01 393.15,227.03 393.84,227.05 394.53,227.07 395.22,227.09 395.91,227.11 396.60,227.12 397.29,227.14 397.98,227.16 398.67,227.18 399.36,227.20 400.05,227.21 400.74,227.23 401.43,227.25 402.12,227.27 402.81,227.28 403.50,227.30" stroke="#ff0000"/>
<polyline points="250.90,154.15 250.92,154.93 250.94,155.67 250.96,156.39 250.98,157.09 251.00,157.76 251.02,158.42 251.04,159.05 251.06,159.66 251.08,160.26 251.10,160.84 251.13,161.41 251.15,161.96 251.17,162.50 251.19,163.02 251.21,163.53 251.23,164.03 251.25,164.51 251.27,164.99 251.29,165.46 251.31,165.91 251.33,166.36 251.35,166.79 251.37,167.22 251.39,167.64 251.41,168.05 251.43,168.45 251.45,168.84 251.47,169.23 251.49,169.61 251.51,169.98 251.53,170.35 251.56,170.71 251.58,171.07 251.60,171.41 251.62,171.76 251.64,172.09 251.66,172.42 251.68,172.75 251.70,173.07 251.72,173.39 251.74,173.70 251.76,174.01 251.78,174.31 251.80,174.61 251.82,174.90 251.84,175.19 251.86,175.47 251.88,175.76 251.90,176.03 251.92,176.31 251.94,176.58 251.97,176.84 251.99,177.11 252.01,177.37 252.03,177.62 252.05,177.88 252.07,178.13 252.09,178.38 252.11,178.62 252.13,178.86 252.15,179.10 252.17,179.34 252.19,179.57 252.21,179.80 252.23,180.03 252.25,180.25 252.27,180.47 252.29,180.70 252.31,180.91 252.33,181.13 252.35,181.34 252.37,181.55 252.40,181.76 252.42,181.97 252.44,182.17 252.46,182.38 252.48,182.58 252.50,182.77 252.52,182.97 252.54,183.17 252.56,183.36 252.58,183.55 252.60,183.74 252.62,183.92 252.64,184.11 252.66,184.29 252.68,184.48 252.70,184.66 252.72,184.83 252.74,185.01 252.76,185.19 252.78,185.36 252.80,185.53 252.83,185.70 252.85,185.87 252.87,186.04 252.89,186.21 252.91,186.37 252.93,186.54 252.95,186.70 252.97,186.86 252.99,187.02 253.01,187.18 253.03,187.34 253.05,187.49 253.07,187.65 253.09,187.80 253.11,187.95 253.13,188.10 253.15,188.25 253.17,188.40 253.19,188.55 253.21,188.69 253.24,188.84 253.26,188.98 253.28,189.13 253.30,189.27 253.32,189.41 253.34,189.55 253.36,189.69 253.38,189.83 253.40,189.96 253.42,190.10 253.44,190.23 253.46,190.37 253.48,190.50 253.50,190.63 253.52,190.76 253.54,190.89 253.56,191.02 253.58,191.15 253.60,191.28 253.62,191.41 253.64,191.53 253.67,191.66 253.69,191.78 253.71,191.91 253.73,192.03 253.75,192.15 253.77,192.27 253.79,192.39 253.81,192.51 253.83,192.63 253.85,192.75 253.87,192.86 253.89,192.98 253.91,193.10 253.93,193.21 253.95,193.32 254.03,193.77 254.12,194.21 254.20,194.64 254.28,195.06 254.36,195.47 254.44,195.87 254.53,196.26 254.61,196.64 254.69,197.02 254.77,197.38 254.85,197.74 254.94,198.10 255.02,198.44 255.10,198.78 255.18,199.11 255.26,199.43 255.34,199.75 255.43,200.07 255.51,200.37 255.59,200.67 255.67,200.97 255.75,201.26 255.84,201.55 255.92,201.83 256.00,202.10 256.08,202.37 256.16,202.64 256.25,202.90 256.33,203.16 256.41,203.41 256.49,203.66 256.57,203.91 256.66,204.15 256.74,204.39 256.82,204.62 256.90,204.85 256.98,205.08 257.07,205.30 257.15,205.53 257.23,205.74 257.31,205.96 257.39,206.17 257.48,206.37 257.56,206.58 257.64,206.78 257.72,206.98 257.80,207.18 257.88,207.37 257.97,207.56 258.05,207.75 258.13,207.94 258.21,208.12 258.29,208.30 258.38,208.48 258.46,208.65 258.54,208.83 258.62,209.00 258.70,209.17 258.79,209.34 258.87,209.50 258.95,209.66 259.03,209.82 259.11,209.98 259.20,210.14 259.28,210.30 259.36,210.45 259.44,210.60 259.52,210.75 259.61,210.90 259.69,211.04 259.77,211.19 259.85,211.33 259.93,211.47 260.02,211.61 260.10,211.75 260.18,211.88 260.26,212.02 260.34,212.15 260.42,212.28 260.51,212.41 260.59,212.54 260.67,212.66 260.75,212.79 260.83,212.91 260.92,213.04 261.00,213.16 261.08,213.28 261.16,213.40 261.24,213.51 261.33,213.63 261.41,213.74 261.49,213.86 261.57,213.97 261.65,214.08 261.74,214.19 261.82,214.30 261.90,214.41 261.98,214.51 262.06,214.62 262.15,214.72 262.23,214.83 262.31,214.93 262.39,215.03 262.47,215.13 262.55,215.23 262.64,215.33 262.72,215.42 262.80,215.52 262.88,215.62 262.96,215.71 263.05,215.80 263.13,215.90 263.21,215.99 263.29,216.08 263.37,216.17 263.46,216.26 263.54,216.34 263.62,216.43 263.70,216.52 263.78,216.60 263.87,216.69 263.95,216.77 264.03,216.85 264.11,216.93 264.19,217.02 264.28,217.10 264.36,217.18 264.44,217.26 264.52,217.33 264.60,217.41 264.69,217.49 264.77,217.56 264.85,217.64 264.93,217.71 265.01,217.79 265.09,217.86 265.18,217.93 265.26,218.01 265.34,218.08 265.42,218.15 265.50,218.22 265.59,218.29 265.67,218.36 265.75,218.42 265.83,218.49 265.91,218.56 266.00,218.62 266.08,218.69 266.16,218.75 266.85,219.28 267.54,219.77 268.23,220.22 268.92,220.65 269.61,221.04 270.30,221.41 270.99,221.75 271.68,222.07 272.37,222.37 273.06,222.65 273.75,222.92 274.44,223.17 275.13,223.40 275.82,223.61 276.51,223.82 277.20,224.01 277.89,224.19 278.58,224.36 279.27,224.52 279.96,224.67 280.65,224.82 281.34,224.95 282.03,225.08 282.72,225.19 283.41,225.31 284.10,225.41 284.79,225.51 285.48,225.61 286.17,225.70 286.86,225.78 287.55,225.86 288.24,225.93 288.93,226.01 289.63,226.07 290.32,226.14 291.01,226.20 291.70,226.25 292.39,226.31 293.08,226.36 293.77,226.41 294.46,226.45 295.15,226.49 295.84,226.54 296.53,226.57 297.22,226.61 297.91,226.65 298.60,226.68 299.29,226.71 299.98,226.74 300.67,226.77 301.36,226.79 302.05,226.82 302.74,226.84 303.43,226.87 304.12,226.89 304.81,226.91 305.50,226.93 306.19,226.95 306.88,226.96 307.57,226.98 308.26,227.00 308.95,227.01 309.64,227.03 310.33,227.04 311.02,227.05 311.71,227.06 312.40,227.08 313.09,227.09 313.78,227.10 314.47,227.11 315.16,227.12 315.85,227.13 316.54,227.13 317.23,227.14 317.92,227.15 318.61,227.16 319.30,227.16 319.99,227.17 320.68,227.18 321.37,227.18 322.06,227.19 322.75,227.19 323.44,227.20 324.13,227.20 324.82,227.21 325.51,227.21 326.20,227.22 326.89,227.22 327.58,227.23 328.27,227.23 328.96,227.23 329.65,227.24 330.34,227.24 331.03,227.24 331.72,227.24 332.41,227.25 333.10,227.25 333.79,227.25 334.48,227.25 335.18,227.26 335.87,227.26 336.56,227.26 337.25,227.26 337.94,227.26 338.63,227.27 339.32,227.27 340.01,227.27 340.70,227.27 341.39,227.27 342.08,227.27 342.77,227.27 343.46,227.28 344.15,227.28 344.84,227.28 345.53,227.28 346.22,227.28 346.91,227.28 347.60,227.28 348.29,227.28 348.98,227.28 349.67,227.28 350.36,227.29 351.05,227.29 351.74,227.29 352.43,227.29 353.12,227.29 353.81,227.29 354.50,227.29 355.19,227.29 355.88,227.29 356.57,227.29 357.26,227.29 357.95,227.29 358.64,227.29 359.33,227.29 360.02,227.29 360.71,227.29 361.40,227.29 362.09,227.29 362.78,227.29 363.47,227.29 364.16,227.29 364.85,227.29 365.54,227.29 366.23,227.30 366.92,227.30 367.61,227.30 368.30,227.30 368.99,227.30 369.68,227.30 370.37,227.30 371.06,227.30 371.75,227.30 372.44,227.30 373.13,227.30 373.82,227.30 374.51,227.30 375.20,227.30 375.89,227.30 376.58,227.30 377.27,227.30 377.96,227.30 378.65,227.30 379.34,227.30 380.03,227.30 380.73,227.30 381.42,227.30 382.11,227.30 382.80,227.30 383.49,227.30 384.18,227.30 384.87,227.30 385.56,227.30 386.25,227.30 386.94,227.30 387.63,227.30 388.32,227.30 389.01,227.30 389.70,227.30 390.39,227.30 391.08,227.30 391.77,227.30 392.46,227.30 393.15,227.30 393.84,227.30 394.53,227.30 395.22,227.30 395.91,227.30 396.60,227.30 397.29,227.30 397.98,227.30 398.67,227.30 399.36,227.30 400.05,227.30 400.74,227.30 401.43,227.30 402.12,227.30 402.81,227.30 403.50,227.30" stroke="#000000"/>
</g>
<path d="M281.42,227.3 v-4.2 M311.94,227.3 v-4.2 M342.46,227.3 v-4.2 M372.98,227.3 v-4.2" stroke="#000" stroke-width="0.9" stroke-opacity="0.8" fill="none"/>
<path d="M250.3,227.3 H404.1 M403.5,227.3 V219.3" stroke="#000" stroke-width="1.2" fill="none"/>
<line x1="325.9" y1="112.60" x2="348.09999999999997" y2="112.60" stroke="#00ffff" stroke-width="1.7"/>
<text x="349.9" y="115.70" font-family="Liberation Sans, sans-serif" font-size="9.3" text-anchor="start" fill="#000" ><tspan font-style="italic">kl</tspan><tspan font-size="6.2" dy="-3.8" dx="2.6">2</tspan><tspan dy="3.8"> = 0.01</tspan></text>
<line x1="325.9" y1="126.50" x2="348.09999999999997" y2="126.50" stroke="#0000ff" stroke-width="1.7"/>
<text x="349.9" y="129.60" font-family="Liberation Sans, sans-serif" font-size="9.3" text-anchor="start" fill="#000" ><tspan font-style="italic">kl</tspan><tspan font-size="6.2" dy="-3.8" dx="2.6">2</tspan><tspan dy="3.8"> = 0.1</tspan></text>
<line x1="325.9" y1="140.40" x2="348.09999999999997" y2="140.40" stroke="#00ff00" stroke-width="1.7"/>
<text x="349.9" y="143.50" font-family="Liberation Sans, sans-serif" font-size="9.3" text-anchor="start" fill="#000" ><tspan font-style="italic">kl</tspan><tspan font-size="6.2" dy="-3.8" dx="2.6">2</tspan><tspan dy="3.8"> = 1</tspan></text>
<line x1="325.9" y1="154.30" x2="348.09999999999997" y2="154.30" stroke="#ff0000" stroke-width="1.7"/>
<text x="349.9" y="157.40" font-family="Liberation Sans, sans-serif" font-size="9.3" text-anchor="start" fill="#000" ><tspan font-style="italic">kl</tspan><tspan font-size="6.2" dy="-3.8" dx="2.6">2</tspan><tspan dy="3.8"> = 10</tspan></text>
<line x1="325.9" y1="168.20" x2="348.09999999999997" y2="168.20" stroke="#000000" stroke-width="1.7"/>
<text x="349.9" y="171.30" font-family="Liberation Sans, sans-serif" font-size="9.3" text-anchor="start" fill="#000" ><tspan font-style="italic">kl</tspan><tspan font-size="6.2" dy="-3.8" dx="2.6">2</tspan><tspan dy="3.8"> = 100</tspan></text>
<text x="327.20" y="255.2" font-family="Liberation Sans, sans-serif" font-size="10.5" text-anchor="middle" fill="#000" >x/l</text>
<text transform="translate(208.6,169.35) rotate(-90)" font-family="Liberation Sans, sans-serif" font-size="10" fill="#000">n<tspan font-size="6.2" dy="4.1">qp</tspan><tspan dy="-4.1">/n</tspan><tspan font-size="6.2" dy="4.1">i</tspan></text>
<text x="203.6" y="93.8" font-family="Liberation Sans, sans-serif" font-size="11" text-anchor="start" fill="#000" letter-spacing="0.3">(d)</text>
</svg>
</body></html>
